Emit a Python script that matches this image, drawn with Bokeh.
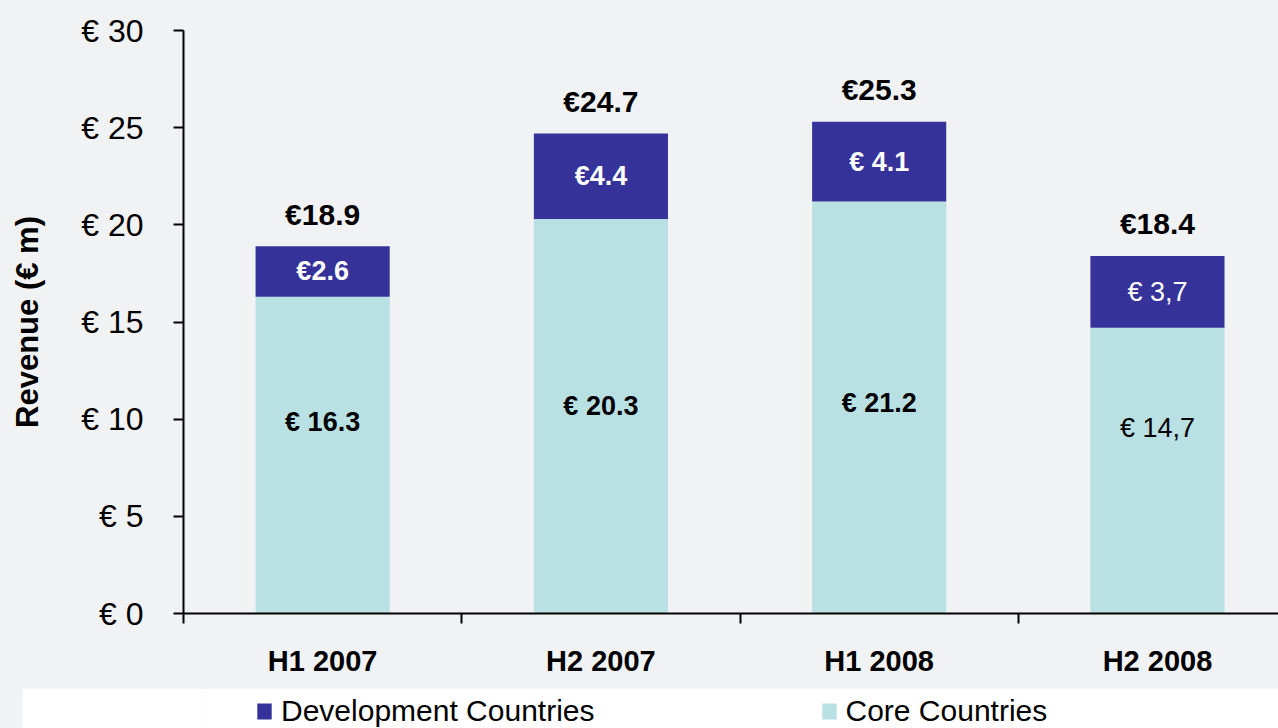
from bokeh.plotting import figure
from bokeh.models import (ColumnDataSource, Range1d, FixedTicker, PrintfTickFormatter,
                          CustomJSTickFormatter, Legend, LegendItem)
from bokeh.layouts import column
from bokeh.core.properties import value
from bokeh.embed import file_html
from bokeh.resources import INLINE

# ---- data ----
periods = ["H1 2007", "H2 2007", "H1 2008", "H2 2008"]
core = [16.3, 20.3, 21.2, 14.7]
dev = [2.6, 4.4, 4.1, 3.7]
totals = [18.9, 24.7, 25.3, 18.4]
core_labels = ["€ 16.3", "€ 20.3", "€ 21.2", "€ 14,7"]
dev_labels = ["€2.6", "€4.4", "€ 4.1", "€ 3,7"]
total_labels = ["€18.9", "€24.7", "€25.3", "€18.4"]
y_ticks = [0, 5, 10, 15, 20, 25, 30]

# ---- styles ----
FONT = "Liberation Sans"
BG = "#f1f2f4"
DEV_COLOR = "#35339a"
CORE_COLOR = "#b9e0e3"
dev_styles = ["bold", "bold", "bold", "normal"]
core_styles = ["bold", "bold", "bold", "normal"]

n = len(periods)
xs = [i + 0.5 for i in range(n)]
src = ColumnDataSource(dict(
    x=xs, core=core, dev=dev, total=totals,
    dev_mid=[c + d / 2 for c, d in zip(core, dev)],
    core_y=[0.2 * c + 6.6 for c in core],
    core_lab=core_labels, dev_lab=dev_labels, total_lab=total_labels,
    dev_style=dev_styles, core_style=core_styles,
))

p = figure(width=1278, height=688, output_backend="svg", toolbar_location=None,
           x_range=Range1d(0, 3.935), y_range=Range1d(0, 30),
           min_border_left=183, min_border_top=30, min_border_right=0, min_border_bottom=75,
           background_fill_color=BG, border_fill_color=BG, outline_line_color=None)
p.grid.visible = False

bars = p.vbar_stack(["core", "dev"], x="x", width=0.482, color=[CORE_COLOR, DEV_COLOR],
                    line_color=None, source=src)

p.text(x="x", y="total", text="total_lab", source=src, text_align="center",
       text_baseline="middle", y_offset=-32, text_font=value(FONT),
       text_font_size="30px", text_font_style="bold", text_color="black")
p.text(x="x", y="dev_mid", text="dev_lab", source=src, text_align="center",
       text_baseline="middle", text_font=value(FONT), text_font_size="27px",
       text_font_style="dev_style", text_color="white")
p.text(x="x", y="core_y", text="core_lab", source=src, text_align="center",
       text_baseline="middle", text_font=value(FONT), text_font_size="27px",
       text_font_style="core_style", text_color="black")

# y axis
ya = p.yaxis[0]
ya.ticker = FixedTicker(ticks=y_ticks)
ya.formatter = PrintfTickFormatter(format="€ %d")
ya.axis_line_width = 2
ya.axis_line_color = "black"
ya.major_tick_line_width = 2
ya.major_tick_line_color = "black"
ya.major_tick_out = 10
ya.major_tick_in = 0
ya.minor_tick_line_color = None
ya.major_label_standoff = 30
ya.major_label_text_font = FONT
ya.major_label_text_font_size = "32px"
ya.major_label_text_color = "black"
ya.axis_label = "Revenue (€ m)"
ya.axis_label_text_font = FONT
ya.axis_label_text_font_size = "31px"
ya.axis_label_text_font_style = "bold"
ya.axis_label_text_color = "black"
ya.axis_label_standoff = 33

# x axis
xa = p.xaxis[0]
xa.ticker = FixedTicker(ticks=xs, minor_ticks=list(range(n)))
xa.formatter = CustomJSTickFormatter(args=dict(labels=periods),
                                     code="return labels[Math.floor(tick)] || '';")
xa.axis_line_width = 2
xa.axis_line_color = "black"
xa.major_tick_line_color = None
xa.major_tick_out = 0
xa.major_tick_in = 0
xa.minor_tick_line_color = "black"
xa.minor_tick_line_width = 2
xa.minor_tick_out = 10
xa.minor_tick_in = 0
xa.major_label_standoff = 21
xa.major_label_text_font = FONT
xa.major_label_text_font_size = "29px"
xa.major_label_text_font_style = "bold"
xa.major_label_text_color = "black"

# legend band
lf = figure(width=1256, height=40, output_backend="svg", toolbar_location=None,
            x_range=Range1d(0, 1), y_range=Range1d(0, 1),
            min_border=0, background_fill_color="white", border_fill_color="white",
            outline_line_color=None, margin=(0, 0, 0, 22))
lf.axis.visible = False
lf.grid.visible = False
key_src = ColumnDataSource(dict(x=[0.5], top=[0]))
r_dev = lf.vbar(x="x", top="top", width=0.01, color=DEV_COLOR, line_color=None, source=key_src)
r_core = lf.vbar(x="x", top="top", width=0.01, color=CORE_COLOR, line_color=None, source=key_src)
leg = Legend(items=[LegendItem(label="Development Countries", renderers=[r_dev]),
                    LegendItem(label="Core Countries", renderers=[r_core])],
             orientation="horizontal", location=(50, 0), padding=0, margin=0,
             spacing=225, glyph_width=18, glyph_height=20, label_standoff=8,
             label_text_font=FONT, label_text_font_size="30px", label_text_color="black",
             border_line_color=None, background_fill_alpha=0)
lf.add_layout(leg)

layout = column(p, lf, spacing=0, styles={"background-color": BG})
open("out.html", "w").write(file_html(layout, INLINE))
